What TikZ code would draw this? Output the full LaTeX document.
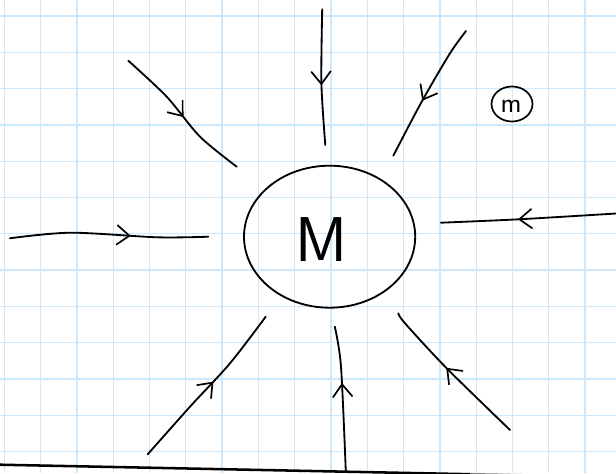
\documentclass[tikz,border=0pt]{standalone}
\usetikzlibrary{arrows.meta,decorations.markings}
\definecolor{gridblue}{RGB}{206,232,250}

\tikzset{
  ink/.style={line width=1.3pt,line cap=round,line join=round},
  flow/.style={ink,postaction={decorate},
    decoration={markings,mark=at position #1 with {\arrow[line width=1.2pt]{Straight Barb[length=9pt,width=14pt]}}}},
}

\begin{document}
\begin{tikzpicture}[x=0.025cm,y=-0.025cm]
  \useasboundingbox (0,0) rectangle (616,473);
  % grid paper
  \foreach \i in {0,...,16}
    \draw[gridblue,line width=0.9pt] ({4.3+36.3*\i},0) -- ({4.3+36.3*\i},473);
  \foreach \j in {0,...,12}
    \draw[gridblue,line width=0.9pt] (0,{16+36.3*\j}) -- (616,{16+36.3*\j});
  % large mass M
  \draw[ink] (329.6,236.7) ellipse [x radius=85.6, y radius=71];
  \node[font=\sffamily\fontsize{45}{45}\selectfont] (bigM) at (321,240) {M};
  % small mass m
  \draw[ink,line width=1.2pt] (512,104) ellipse [x radius=20.5, y radius=17.5];
  \node[font=\sffamily\fontsize{20}{20}\selectfont] (smallm) at (511,106) {m};
  % field lines pointing in
  \draw[flow=0.52] plot[smooth] coordinates {(128.3,60.7) (166.7,96.7) (200,136.7) (236.7,166.7)};
  \draw[flow=0.56] plot[smooth] coordinates {(322.2,9.3) (321.4,83.3) (325.3,145)};
  \draw[flow=0.57] plot[smooth] coordinates {(466,31) (450,53.3) (421.7,101.7) (393.3,155.7)};
  \draw[flow=0.56] plot[smooth] coordinates {(616,213.5) (518.7,219.3) (440.9,222.7)};
  \draw[flow=0.61] plot[smooth] coordinates {(9.8,238.3) (70.7,232.7) (157.2,237.3) (208.3,236.7)};
  \draw[flow=0.54] plot[smooth] coordinates {(147.7,454.3) (190,406.7) (230,363.3) (265.7,316.7)};
  \draw[flow=0.61] plot[smooth] coordinates {(345.8,471.7) (341,366.7) (334.8,326.7)};
  \draw[flow=0.55] plot[smooth] coordinates {(510,430) (446.7,368.3) (405,323.3) (398.3,313.3)};
  % ground
  \draw[line width=1.8pt] (0,464.7) -- (470,474.2);
  \draw[gray,line width=1.8pt] (470,474.2) -- (550,475.8);
\end{tikzpicture}
\end{document}
